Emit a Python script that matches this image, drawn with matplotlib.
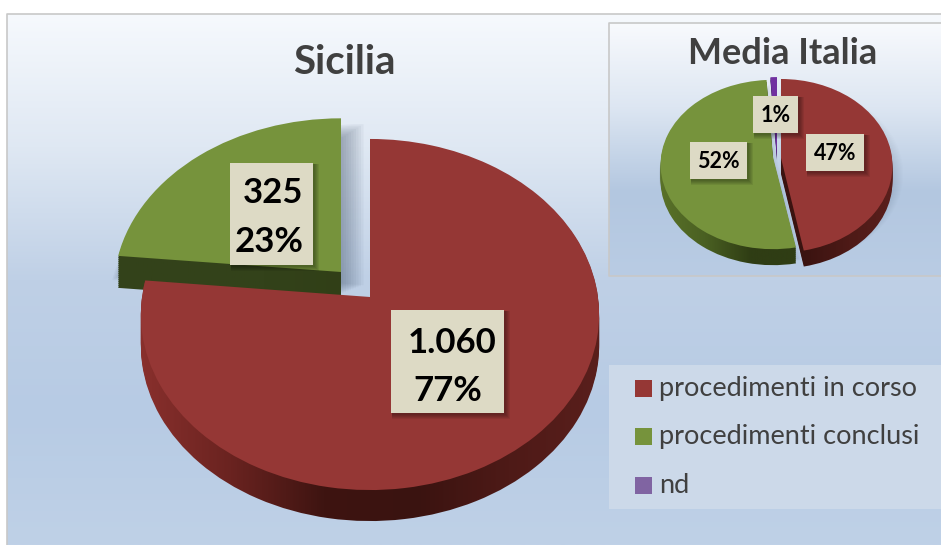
import numpy as np
import matplotlib
matplotlib.use("Agg")
import matplotlib.pyplot as plt
from matplotlib.colors import LinearSegmentedColormap
from matplotlib.patches import Rectangle
from matplotlib.transforms import Transform

plt.rcParams['font.family'] = ['Lato', 'DejaVu Sans']

# --- Data ---
legend_labels = ["procedimenti in corso", "procedimenti conclusi", "nd"]
legend_colors = ["#953735", "#76933c", "#8064a2"]

sicilia_values = [1060, 325]
sicilia_labels = [["1.060", "77%"], ["325", "23%"]]

italia_values = [47, 52, 1]
italia_labels = ["47%", "52%", "1%"]

W, H = 941, 545
TEXT = "#404040"
BOX = "#dddac5"

red_side = ["#8a302d", "#6a2320", "#3e1411", "#3a1310", "#4e1a17", "#5a1f1c"]
green_side = ["#5a7229", "#4a6022", "#2f3d14", "#2f3d14", "#2f3d14", "#36461a"]
green_side_big = ["#33421a", "#33421a", "#2f3d14", "#2f3d14"]
purple_side = ["#3c1a60", "#3c1a60"]


class Tilt(Transform):
    # tilted disc seen in perspective, unit pie -> pixels
    input_dims = 2
    output_dims = 2

    def __init__(self, cx, cy, rx, ry, k):
        super().__init__()
        self.p = (cx, cy, rx, ry, k)

    def transform_non_affine(self, xy):
        cx, cy, rx, ry, k = self.p
        xy = np.asarray(xy, dtype=float)
        w = 1 + k * xy[:, 1]
        return np.column_stack([cx + rx * xy[:, 0] / w, cy - ry * xy[:, 1] / w])


fig = plt.figure(figsize=(W / 100, H / 100), dpi=100)
ax = fig.add_axes([0, 0, 1, 1])
zo = [2]


def next_z():
    zo[0] += 1
    return zo[0]


def gradient(x0, x1, y0, y1, stops):
    cmap = LinearSegmentedColormap.from_list("bg", stops)
    img = np.linspace(0, 1, 256).reshape(-1, 1)
    return ax.imshow(img, cmap=cmap, extent=(x0, x1, y1, y0), aspect='auto', vmin=0, vmax=1,
                     zorder=next_z(), interpolation='bilinear')


def one_wedge(values, i):
    wedges, _ = ax.pie(values, startangle=90, counterclock=False, colors=["k"] * len(values))
    for j, w in enumerate(wedges):
        if j != i:
            w.remove()
    return wedges[i]


def draw_slice(values, i, color, side, c, R, S, k, depth, shadow, spread=3):
    cx, cy = c
    # soft shadow
    if shadow > 0:
        for n in range(1, 13):
            w = one_wedge(values, i)
            w.set_facecolor("#3a4a60")
            w.set_alpha(shadow)
            w.set_linewidth(0)
            w.set_transform(Tilt(cx + spread * (n - 3), cy + depth * 0.6 - spread * (n - 6) * 0.4,
                                 R * (1 + 0.004 * n), S * (1 + 0.004 * n), k) + ax.transData)
            w.set_zorder(next_z())
    # side wall
    cmap = LinearSegmentedColormap.from_list("side", side)
    grad = np.linspace(0, 1, 256).reshape(1, -1)
    step = 2
    for d in range(depth, 0, -step):
        w = one_wedge(values, i)
        w.set_visible(False)
        w.set_transform(Tilt(cx, cy + d, R, S, k) + ax.transData)
        im = ax.imshow(grad, cmap=cmap, extent=(cx - R * 1.02, cx + R * 1.02, cy + S * 1.4, cy - S * 1.2),
                       aspect='auto', zorder=next_z())
        im.set_clip_path(w.get_path(), w.get_transform())
    # top face
    w = one_wedge(values, i)
    w.set_facecolor(color)
    w.set_linewidth(0)
    w.set_transform(Tilt(cx, cy, R, S, k) + ax.transData)
    w.set_zorder(next_z())


def label_box(x0, y0, x1, y1):
    for n in range(1, 6):
        ax.add_patch(Rectangle((x0 + 1, y0 + 1), x1 - x0 + n, y1 - y0 + n, fc="k", ec="none",
                               alpha=0.07, zorder=next_z()))
    ax.add_patch(Rectangle((x0, y0), x1 - x0, y1 - y0, fc=BOX, ec="none", zorder=next_z()))


# --- Backgrounds ---
bg = gradient(7, W, 14, H, ["#f6f9fd", "#dfe8f3", "#bfd0e6", "#b7cbe4", "#bfd1e7"])
ax.plot([7, 7, W], [H, 13.5, 13.5], color="#c8c8c8", lw=1.2, zorder=next_z())

# --- Sicilia pie ---
draw_slice(sicilia_values, 1, legend_colors[1], green_side_big, (341, 272), 226, 169, 0.0997, 32, 0.05, spread=2.5)
draw_slice(sicilia_values, 0, legend_colors[0], red_side, (370, 297), 228, 173.8, 0.0997, 31, 0)

ax.text(344, 63, "Sicilia", fontsize=29, fontweight='bold', color=TEXT, ha='center', va='center', zorder=500)

label_box(230, 163, 313, 265)
ax.text(303, 193, sicilia_labels[1][0], fontsize=25, fontweight='bold', color="k", ha='right', va='center', zorder=next_z())
ax.text(304, 242, sicilia_labels[1][1], fontsize=25, fontweight='bold', color="k", ha='right', va='center', zorder=next_z())
label_box(391, 310, 504, 413)
ax.text(452, 343, sicilia_labels[0][0], fontsize=25, fontweight='bold', color="k", ha='center', va='center', zorder=next_z())
ax.text(448, 391, sicilia_labels[0][1], fontsize=25, fontweight='bold', color="k", ha='center', va='center', zorder=next_z())

# --- Inset Media Italia ---
gradient(609, W, 23, 276, ["#f8fafd", "#dde6f2", "#b3c7e0", "#b9cce4"])
ax.plot([W, 609, 609, W], [23, 23, 276, 276], color="#c8c8c8", lw=1.2, zorder=next_z())

draw_slice(italia_values, 1, legend_colors[1], green_side, (773, 157), 112, 84, 0.0886, 16, 0.012, spread=0.6)
draw_slice(italia_values, 2, "#7030a0", purple_side, (777, 157), 114, 87, 0.0886, 3, 0.0)
draw_slice(italia_values, 0, legend_colors[0], red_side, (781, 158), 111, 86, 0.0886, 16, 0.012, spread=0.6)

ax.text(783, 53, "Media Italia", fontsize=26, fontweight='bold', color=TEXT, ha='center', va='center', zorder=next_z())

box_pos = [(806, 134, 864, 171), (690, 142, 747, 179), (753, 96, 798, 133)]
for (x0, y0, x1, y1), lab in zip(box_pos, italia_labels):
    label_box(x0, y0, x1, y1)
    ax.text((x0 + x1) / 2, (y0 + y1) / 2 + 1, lab, fontsize=15.5, fontweight='bold', color="k",
            ha='center', va='center', zorder=next_z())

# --- Legend ---
ax.add_patch(Rectangle((609, 365), W - 609, 144, fc="#ccd9e9", ec="none", zorder=next_z()))
leg_y = [388.5, 436.5, 485.5]
for y, lab, col in zip(leg_y, legend_labels, legend_colors):
    ax.add_patch(Rectangle((635, y - 8.5), 17, 17, fc=col, ec="none", zorder=next_z()))
    ax.text(659, y, lab, fontsize=19.5, color=TEXT, ha='left', va='center', zorder=next_z())

ax.set_aspect('auto')
ax.set_xlim(0, W)
ax.set_ylim(H, 0)
ax.axis('off')
fig.patch.set_facecolor("white")
fig.savefig("out.png", dpi=100)
